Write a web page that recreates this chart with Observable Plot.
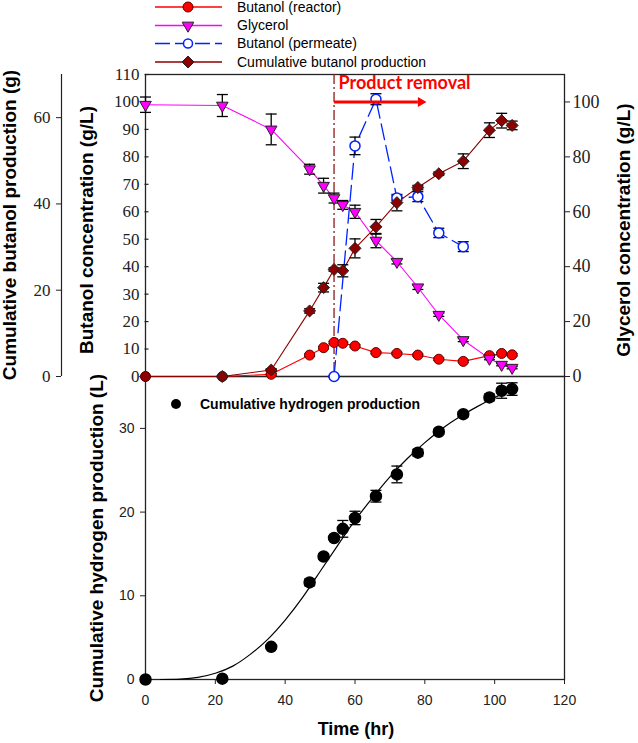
<!DOCTYPE html>
<html><head><meta charset="utf-8">
<script src="https://cdn.jsdelivr.net/npm/d3@7"></script>
<script src="https://cdn.jsdelivr.net/npm/@observablehq/plot@0.6"></script>
<style>
body{margin:0;background:#fff;}
#fig{position:relative;width:638px;height:743px;font-family:"Liberation Sans",Arial,sans-serif;background:#fff;overflow:hidden;color:#000;}
#fig svg{position:absolute;left:0;top:0;}
#fig svg.serifax text{font-family:"Liberation Serif","Times New Roman",serif;}
#fig svg.serifax text.removal{font-family:Lato,"Open Sans",sans-serif;}
.lab{position:absolute;font-weight:bold;white-space:nowrap;line-height:1;}
.rot{transform:translate(-50%,-50%) rotate(-90deg);}
.hor{transform:translate(-50%,-50%);}
</style></head><body><div id="fig"></div>
<script>
// ---------- data ----------
const time = [0, 22, 36, 47, 51, 54, 56.5, 60, 66, 72, 78, 84, 91, 98.5, 102, 105];
const butanolReactor    = [0, 0, 0.8, 7.8, 10.5, 12.4, 12.1, 11.1, 8.7, 8.4, 7.8, 6.3, 5.5, 7.6, 8.4, 7.9];
const butanolReactorErr = [0.2, 0.2, 0.3, 0.4, 0.4, 0.4, 0.4, 0.4, 0.4, 0.4, 0.4, 0.4, 0.4, 0.4, 0.4, 0.4];
const glycerol    = [99, 98.7, 90, 75.5, 69.5, 65, 62.5, 60, 49.5, 41.8, 32.5, 22.5, 13.3, 6.5, 4.3, 3.2];
const glycerolErr = [2.8, 4, 5.6, 1.8, 2.7, 1.8, 1.6, 2.4, 2.6, 0.8, 0.8, 0.6, 0.6, 0.4, 0.4, 0.4];
const permeateTime = [54, 60, 66, 72, 78, 84, 91];
const butanolPermeate    = [0, 84, 101, 65, 65.5, 52.3, 47.3];
const butanolPermeateErr = [0.3, 3.2, 2, 0.8, 1.8, 1.7, 1.8];
const cumulativeButanol    = [0, 0, 1.5, 15.2, 20.6, 24.8, 24.5, 29.7, 34.7, 40.3, 43.8, 47.0, 49.9, 57.1, 59.3, 58.2];
const cumulativeButanolErr = [0.2, 0.2, 0.3, 0.5, 1.0, 0.4, 1.4, 2.2, 1.7, 1.9, 0.5, 0.4, 1.7, 1.7, 1.7, 1.0];
const hydrogen    = [0, 0.1, 3.9, 11.6, 14.7, 16.9, 18.0, 19.3, 21.9, 24.5, 27.1, 29.6, 31.7, 33.7, 34.5, 34.7];
const hydrogenErr = [0.1, 0.1, 0.2, 0.4, 0.3, 0.2, 1.0, 0.8, 0.7, 1.0, 0.4, 0.3, 0.3, 0.4, 0.9, 0.75];
const fitTime = [4.3, 10, 15, 20, 25, 30, 35, 40, 45, 50, 55, 60, 65, 70, 75, 80, 85, 90, 95, 100, 105];
const fitHydrogen = [0, 0.05, 0.25, 0.75, 1.6, 3.0, 4.8, 7.1, 9.8, 12.9, 16.0, 19.0, 21.7, 24.2, 26.4, 28.3, 30.0, 31.4, 32.6, 33.7, 34.6];
const productRemovalStart = 54;
const removalArrow = {x1: 54, x2: 78, y: 100};
const removalLabel = "Product removal";

// ticks
const timeTicks = [0, 20, 40, 60, 80, 100, 120];
const concTicks = [0, 10, 20, 30, 40, 50, 60, 70, 80, 90, 100, 110];
const glycerolTicks = [0, 20, 40, 60, 80, 100];
const cumTicks = [0, 20, 40, 60];
const hydrogenTicks = [0, 10, 20, 30];
const concDomain = [0, 110];
const cumDomain = [0, 70];
const hydrogenDomain = [0, 36.2];
const timeDomain = [0, 120];

const legendLabels = ["Butanol (reactor)", "Glycerol", "Butanol (permeate)", "Cumulative butanol production"];
const hydrogenLegend = "Cumulative hydrogen production";
const axisTitles = {
  cum: "Cumulative butanol production (g)",
  conc: "Butanol concentration (g/L)",
  gly: "Glycerol concentration (g/L)",
  h2: "Cumulative hydrogen production (L)",
  time: "Time (hr)"
};

// cumulative (g) plotted on the shared concentration scale
const cumToConc = concDomain[1] / cumDomain[1];

const rows = time.map((t, i) => ({
  t, reactor: butanolReactor[i], reactorErr: butanolReactorErr[i],
  gly: glycerol[i], glyErr: glycerolErr[i],
  cum: cumulativeButanol[i] * cumToConc, cumErr: cumulativeButanolErr[i] * cumToConc,
  h2: hydrogen[i], h2Err: hydrogenErr[i]
}));
const perm = permeateTime.map((t, i) => ({t, v: butanolPermeate[i], e: butanolPermeateErr[i]}));
const fit = fitTime.map((t, i) => ({t, v: fitHydrogen[i]}));

const C = {red: "#ff0000", mag: "#ff00ff", blue: "#0022ff", brown: "#8b0000", axis: "#222"};
const capSymbol = {draw(ctx) { ctx.moveTo(-5.5, 0); ctx.lineTo(5.5, 0); }};
const inTick = {draw(ctx) { ctx.moveTo(-1, 0); ctx.lineTo(3, 0); }};
const serif = "'Liberation Serif', 'Times New Roman', serif";

function errorBars(data, x, y, e) {
  const o = {stroke: "#000", strokeWidth: 1.3};
  return [
    Plot.ruleX(data, {x, y1: d => y(d) - e(d), y2: d => y(d) + e(d), ...o}),
    Plot.dot(data, {x, y: d => y(d) + e(d), symbol: capSymbol, fill: "none", ...o}),
    Plot.dot(data, {x, y: d => y(d) - e(d), symbol: capSymbol, fill: "none", ...o})
  ];
}

const fig = document.getElementById("fig");

// ---------- bottom panel ----------
const bottomPlot = Plot.plot({
  width: 638, height: 743, marginTop: 376, marginBottom: 64, marginLeft: 145, marginRight: 74,
  x: {domain: timeDomain},
  y: {domain: hydrogenDomain},
  style: {background: "transparent", overflow: "visible", fontFamily: "'Liberation Sans', Arial, sans-serif", fontSize: "14px"},
  marks: [
    Plot.frame({stroke: C.axis, strokeWidth: 1.3}),
    Plot.axisX({ticks: timeTicks, tickSize: 5, tickPadding: 11, label: null, fontSize: 14, color: C.axis}),
    Plot.axisY({ticks: hydrogenTicks, tickSize: 5, tickPadding: 6, label: null, fontSize: 14, color: C.axis}),
    Plot.line(fit, {x: "t", y: "v", curve: "natural", stroke: "#000", strokeWidth: 1.2}),
    ...errorBars(rows, "t", d => d.h2, d => d.h2Err),
    Plot.dot(rows, {x: "t", y: "h2", r: 5.5, fill: "#000", stroke: "#000"})
  ]
});
fig.appendChild(bottomPlot);

// ---------- top panel ----------
const topPlot = Plot.plot({
  width: 638, height: 386, marginTop: 74, marginBottom: 10, marginLeft: 145, marginRight: 74,
  x: {domain: timeDomain, axis: null},
  y: {domain: concDomain},
  style: {background: "transparent", overflow: "visible", fontFamily: serif, fontSize: "17px"},
  marks: [
    Plot.frame({stroke: C.axis, strokeWidth: 1.3}),
    Plot.ruleX([productRemovalStart], {stroke: "#8b1a1a", strokeWidth: 1.3, strokeDasharray: "10,3,2,3"}),
    // axes
    Plot.axisY({anchor: "left", ticks: concTicks, tickSize: 0, tickPadding: 6, label: null, fontFamily: serif, fontSize: 17, color: C.axis}),
    Plot.dot(concTicks, {y: d => d, frameAnchor: "left", symbol: inTick, fill: "none", stroke: C.axis, strokeWidth: 1.2}),
    Plot.axisY({anchor: "right", ticks: glycerolTicks, tickSize: 5, tickPadding: 3, label: null, fontFamily: serif, fontSize: 18, color: C.axis}),
    Plot.axisY({anchor: "left", ticks: cumTicks.map(g => g * cumToConc), tickFormat: d => String(Math.round(d / cumToConc)),
      tickSize: 5, tickPadding: 6, dx: -84, label: null, fontFamily: serif, fontSize: 17, color: C.axis}),
    Plot.ruleX([0], {dx: -84, stroke: C.axis, strokeWidth: 1.2}),
    // lines
    Plot.line(rows, {x: "t", y: "reactor", stroke: C.red, strokeWidth: 1.1}),
    Plot.line(rows, {x: "t", y: "gly", stroke: C.mag, strokeWidth: 1.1}),
    Plot.line(perm, {x: "t", y: "v", stroke: C.blue, strokeWidth: 1.3, strokeDasharray: "16,6"}),
    Plot.line(rows, {x: "t", y: "cum", stroke: C.brown, strokeWidth: 1.1}),
    // error bars
    ...errorBars(rows, "t", d => d.reactor, d => d.reactorErr),
    ...errorBars(rows, "t", d => d.gly, d => d.glyErr),
    ...errorBars(perm, "t", d => d.v, d => d.e),
    ...errorBars(rows, "t", d => d.cum, d => d.cumErr),
    // markers
    Plot.dot(rows, {x: "t", y: "reactor", r: 5, fill: C.red, stroke: "#600000", strokeWidth: 1}),
    Plot.dot(rows, {x: "t", y: "gly", symbol: "triangle", rotate: 180, r: 4.3, fill: C.mag, stroke: "#222", strokeWidth: 1}),
    Plot.dot(perm, {x: "t", y: "v", r: 5, fill: "#fff", stroke: C.blue, strokeWidth: 1.5}),
    Plot.dot(rows, {x: "t", y: "cum", symbol: "diamond2", r: 5.4, fill: "#8b0000", stroke: "#222", strokeWidth: 1}),
    // product removal annotation
    Plot.link([removalArrow], {x1: "x1", x2: "x2", y1: "y", y2: "y", stroke: C.red, strokeWidth: 3}),
    Plot.dot([removalArrow], {x: "x2", y: "y", symbol: "triangle", rotate: 90, r: 3.7, dx: 2.9, fill: C.red}),
    Plot.text([removalLabel], {x: () => productRemovalStart, text: d => d, frameAnchor: "top", dy: 9, dx: 4.5,
      textAnchor: "start", lineAnchor: "middle", fill: C.red, fontFamily: "Lato, 'Open Sans', sans-serif", fontWeight: "bold", fontSize: 18})
  ]
});
topPlot.classList.add("serifax");
d3.select(topPlot).selectAll("text").filter(function() { return this.textContent === removalLabel; }).classed("removal", true);
fig.appendChild(topPlot);

// ---------- top legend ----------
const legendRows = [
  {label: legendLabels[0], stroke: C.red, dash: null, sym: d3.symbolCircle, r: 5, fill: C.red, ms: "#600000", rot: 0},
  {label: legendLabels[1], stroke: C.mag, dash: null, sym: d3.symbolTriangle, r: 4.3, fill: C.mag, ms: "#222", rot: 180},
  {label: legendLabels[2], stroke: C.blue, dash: "15,5", sym: d3.symbolCircle, r: 4.5, fill: "#fff", ms: C.blue, rot: 0},
  {label: legendLabels[3], stroke: C.brown, dash: null, sym: d3.symbolDiamond2, r: 5.4, fill: "#8b0000", ms: "#222", rot: 0}
];
const legendY = [7, 25.5, 43.5, 62];
const leg = d3.select(fig).append("svg").attr("width", 638).attr("height", 74);
legendRows.forEach((d, i) => {
  const g = leg.append("g").attr("transform", `translate(0,${legendY[i]})`);
  g.append("line").attr("x1", 155).attr("x2", 222).attr("stroke", d.stroke).attr("stroke-width", 1.3)
    .attr("stroke-dasharray", d.dash);
  g.append("path").attr("d", d3.symbol(d.sym, Math.PI * d.r * d.r)())
    .attr("transform", `translate(188,0) rotate(${d.rot})`)
    .attr("fill", d.fill).attr("stroke", d.ms).attr("stroke-width", d.fill === "#fff" ? 1.5 : 1);
  g.append("text").attr("x", 237).attr("y", 0).attr("dy", "0.35em").attr("font-size", 14)
    .attr("font-family", "'Liberation Sans', Arial, sans-serif").text(d.label);
});

// bottom legend
const bl = d3.select(fig).append("svg").attr("width", 638).attr("height", 743).style("pointer-events", "none");
bl.append("circle").attr("cx", 176).attr("cy", 404).attr("r", 5).attr("fill", "#000");
bl.append("text").attr("x", 200).attr("y", 404).attr("dy", "0.35em").attr("font-size", 14).attr("font-weight", "bold")
  .attr("font-family", "'Liberation Sans', Arial, sans-serif").text(hydrogenLegend);

// axis titles
function title(text, x, y, size, rot) {
  const el = document.createElement("div");
  el.className = "lab " + (rot ? "rot" : "hor");
  el.style.left = x + "px"; el.style.top = y + "px"; el.style.fontSize = size + "px";
  el.textContent = text;
  fig.appendChild(el);
}
title(axisTitles.cum, 9, 225, 19, true);
title(axisTitles.conc, 86, 230, 19, true);
title(axisTitles.gly, 623, 230, 19, true);
title(axisTitles.h2, 96, 538, 19, true);
title(axisTitles.time, 356, 729, 18, false);
</script></body></html>
